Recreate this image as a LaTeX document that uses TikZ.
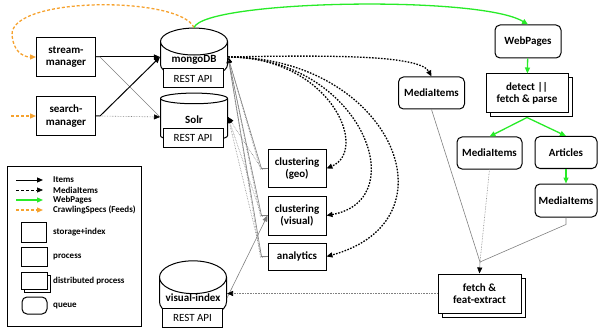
\documentclass[tikz,border=0pt]{standalone}
\usepackage{fontspec}
\setmainfont{Carlito}
\usetikzlibrary{arrows.meta,shapes.geometric,shadows}

\definecolor{webgreen}{RGB}{40,235,40}
\definecolor{specorange}{RGB}{246,162,46}

\tikzset{
    >={Triangle[length=6pt,width=5pt]},
    blk/.tip={Triangle[length=6pt,width=5pt,color=black]},
    box/.style={draw, line width=1pt, fill=white, font=\bfseries\fontsize{11}{12.5}\selectfont, align=center, inner sep=1pt},
    proc/.style={box, minimum width=59pt, minimum height=39pt},
    dproc/.style={box, copy shadow={shadow xshift=4pt, shadow yshift=-4pt, fill=white, draw=black, line width=1pt}},
    queue/.style={box, rounded corners=5pt},
    store/.style={cylinder, shape border rotate=90, draw, line width=1pt, fill=white, font=\bfseries\fontsize{11}{12.5}\selectfont, aspect=0.6, minimum width=67pt, minimum height=48pt, inner sep=0pt},
    api/.style={draw, line width=1pt, fill=white, font=\fontsize{11}{12.5}\selectfont, minimum width=60pt, minimum height=19pt, inner sep=0pt},
    item/.style={->, line width=1pt},
    media/.style={->, line width=1.3pt, dash pattern=on 1.6pt off 1.4pt},
    thinitem/.style={gray, line width=0.6pt},
    thinmedia/.style={gray, line width=0.6pt, densely dotted},
    web/.style={->, webgreen, line width=1.3pt},
    spec/.style={->, specorange, line width=1.3pt, dash pattern=on 3pt off 2pt},
    legtext/.style={anchor=west, font=\bfseries\fontsize{9}{10}\selectfont, inner sep=0pt}
}

\begin{document}
\begin{tikzpicture}[x=1pt, y=-1pt]
    \useasboundingbox (0,0) rectangle (598,329);

    % Managers and storage
    \node[proc] (stream) at (66,57) {stream-\\manager};
    \node[proc] (search) at (66,116) {search-\\manager};
    \node[store] (mongo) at (194,60) {mongoDB};
    \node[api] (mongoapi) at (193,78.5) {REST API};
    \node[store] (solr) at (194,120) {Solr};
    \node[api] (solrapi) at (193,138) {REST API};
    \node[store] (vis) at (193,298) {visual-index};
    \node[api] (visapi) at (192.5,318) {REST API};

    % Clustering and analytics
    \node[proc, minimum width=58pt, minimum height=37pt] (geo) at (297,168.5) {clustering\\(geo)};
    \node[proc, minimum width=58pt, minimum height=39pt] (visual) at (297,215.5) {clustering\\(visual)};
    \node[proc, minimum width=58pt, minimum height=27pt] (analytics) at (297,256.5) {analytics};

    % Web pages side
    \node[queue, minimum width=66pt, minimum height=32pt] (mitop) at (431.5,93) {MediaItems};
    \node[queue, minimum width=66pt, minimum height=33pt] (webpages) at (528,41.5) {WebPages};
    \node[dproc, minimum width=82pt, minimum height=39pt] (detect) at (527,93.5) {detect ||\\fetch \& parse};
    \node[queue, minimum width=65pt, minimum height=32pt] (mimid) at (489.5,153) {MediaItems};
    \node[queue, minimum width=62pt, minimum height=32pt] (articles) at (566,152.5) {Articles};
    \node[queue, minimum width=62pt, minimum height=33pt] (milow) at (566,200.5) {MediaItems};
    \node[dproc, minimum width=83pt, minimum height=39pt] (fetch) at (479.5,293.5) {fetch \&\\feat-extract};

    % Legend
    \node[draw, line width=1pt, minimum width=134pt, minimum height=159pt] (legend) at (74.5,246.5) {};
    \node[legtext] (lgitems) at (53,180) {Items};
    \node[legtext] (lgmedia) at (53,190) {MediaItems};
    \node[legtext] (lgweb) at (53,200) {WebPages};
    \node[legtext] (lgspec) at (53,210) {CrawlingSpecs (Feeds)};
    \draw[item] ([xshift=-37pt]lgitems.west) -- ([xshift=-10pt]lgitems.west);
    \draw[->, line width=0.6pt, densely dashed] ([xshift=-37pt]lgmedia.west) -- ([xshift=-10pt]lgmedia.west);
    \draw[web] ([xshift=-37pt]lgweb.west) -- ([xshift=-10pt]lgweb.west);
    \draw[spec] ([xshift=-37pt]lgspec.west) -- ([xshift=-10pt]lgspec.west);
    \node[store, minimum width=25pt, minimum height=20pt, aspect=0.5] (lgstore) at (33.5,233) {};
    \node[box, minimum width=26pt, minimum height=19pt] (lgproc) at (34,256.5) {};
    \node[box, minimum width=26pt, minimum height=17pt, copy shadow={shadow xshift=3pt, shadow yshift=-3pt, fill=white, draw=black, line width=1pt}] (lgdproc) at (34,280.5) {};
    \node[queue, minimum width=25pt, minimum height=17pt] (lgqueue) at (34.5,305.5) {};
    \node[legtext] at (53,232) {storage+index};
    \node[legtext] at (53,257) {process};
    \node[legtext] at (53,281) {distributed process};
    \node[legtext] at (53,306) {queue};

    % Items from the managers
    \draw[item] (stream.east) -- (stream.east -| mongo.west);
    \draw[thinitem] (stream.east) -- ++(4,0) -- ([yshift=3pt]solr.west);
    \draw[item] (search.east) -- ++(4,0) -- (stream.east -| mongo.west);
    \draw[thinmedia, -blk] (search.east) -- ++(4,0) -- ([yshift=3pt]solr.west);

    % Crawling specs
    \draw[spec] (mongo.north) .. controls (180,-4) and (10,-4) .. (12,35) .. controls (13,50) and (22,57) .. (stream.west);
    \draw[spec] ([xshift=-25pt]search.west) -- (search.west);

    % Web pages
    \draw[web] (mongo.north) .. controls (205,0) and (480,-5) .. (webpages.north);
    \draw[web] (webpages) -- (detect);
    \draw[web] ([yshift=-4pt]detect.south) -- (mimid.north);
    \draw[web] ([yshift=-4pt]detect.south) -- (articles.north);
    \draw[web] (articles) -- (milow);

    % Media items out of mongoDB
    \draw[media] ([yshift=3pt]mongo.east) .. controls (330,55) and (420,55) .. (mitop.north);
    \draw[media] ([yshift=3pt]mongo.east) .. controls (330,57) and (370,150) .. (geo.east);
    \draw[media] ([yshift=3pt]mongo.east) .. controls (360,57) and (415,200) .. (visual.east);
    \draw[media] ([yshift=3pt]mongo.east) .. controls (390,57) and (460,220) .. (analytics.east);

    % Results back into the storage
    \foreach \b in {geo, visual, analytics} {
        \draw[thinitem, -blk] (\b.west) -- ++(-6,0) -- ([yshift=3pt]mongo.east);
        \draw[thinmedia] (\b.west) -- ++(-7,1) -- ([yshift=3pt]mongo.east);
        \draw[thinmedia, -blk] (\b.west) -- ++(-6,0) -- ([yshift=3pt]solr.east);
    }
    \draw[thinitem, ->] (vis.east) -- (visual.west);

    % Fetch and feature extraction
    \coordinate (join) at (480,262);
    \draw[thinitem] (mitop.south) -- (join);
    \draw[thinmedia] (mimid.south) -- (join);
    \draw[thinitem] (milow.south) -- ++(0,7) -- (join);
    \draw[thinitem, -blk] (join) -- (fetch.north);
    \draw[thinmedia, -blk] (fetch.west) -- (fetch.west -| vis.east);
\end{tikzpicture}
\end{document}
